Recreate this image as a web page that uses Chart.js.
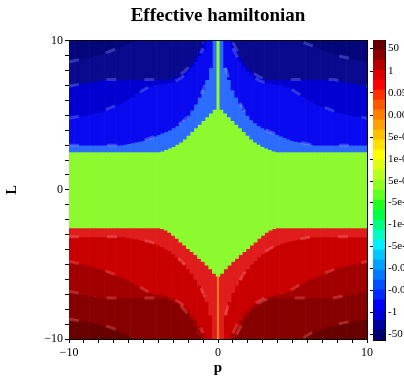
<!DOCTYPE html>
<html>
<head>
<meta charset="utf-8">
<script src="https://cdn.jsdelivr.net/npm/chart.js@4.4.1/dist/chart.umd.min.js"></script>
<style>
  html, body { margin: 0; padding: 0; background: #fff; }
  #wrap { position: relative; width: 404px; height: 377px; overflow: hidden; }
  #mainChart { position: absolute; left: 0; top: 0; }
  #barChart { position: absolute; left: 362px; top: 30px; }
</style>
</head>
<body>
<div id="wrap">
  <canvas id="mainChart" width="404" height="377"></canvas>
  <canvas id="barChart" width="42" height="320"></canvas>
</div>
<script>
// |p| of each column (the plot is mirrored in p)
const pAbs = [0,0.25,0.5,0.75,1,1.25,1.5,1.75,2,2.25,2.5,2.75,3,3.25,3.5,3.75,4,4.25,4.5,4.75,5,5.25,5.5,5.75,6,6.25,6.5,6.75,7,7.25,7.5,7.75,8,8.25,8.5,8.75,9,9.25,9.5,9.75,10];
const lRange = [-10, 10];

// level boundaries in L, read per column (upper half)
const c1Top = [10,10,10,10,10,10,10,10,10,10,10,10,10,10,10,10,10,10,10,10,10,10,10,9.9,9.8,9.7,9.6,9.5,9.4,9.3,9.2,9.1,9.05,8.95,8.9,8.85,8.8,8.75,8.7,8.65,8.6];
const c2Top = [10,10,10,10,9.9,9.4,8.9,8.5,8.2,7.95,7.75,7.6,7.5,7.45,7.4,7.4,7.4,7.4,7.4,7.4,7.4,7.4,7.4,7.4,7.4,7.4,7.4,7.4,7.4,7.4,7.4,7.4,7.35,7.3,7.25,7.2,7.15,7.1,7.05,7.0,6.95];
const c3Top = [10,10,10,10,9.5,9.0,8.6,8.25,7.95,7.7,7.5,7.35,7.25,7.2,7.15,7.1,7.05,7.0,6.95,6.85,6.7,6.55,6.4,6.25,6.1,5.95,5.8,5.7,5.6,5.5,5.4,5.3,5.2,5.15,5.1,5.05,5.0,4.95,4.9,4.85,4.8];
const c4Top = [10,10,8.2,7.4,6.7,6.2,5.75,5.35,5.0,4.7,4.5,4.3,4.15,4.0,3.9,3.8,3.7,3.6,3.5,3.4,3.3,3.25,3.2,3.15,3.1,3.05,3.0,3.0,3.0,3.0,3.0,3.0,3.0,3.0,3.0,3.0,3.0,3.0,3.0,3.0,3.0];
const greenTop = [10,5.4,5.15,4.9,4.65,4.4,4.15,3.9,3.65,3.4,3.2,3.05,2.9,2.8,2.7,2.6,2.55,2.55,2.55,2.55,2.55,2.55,2.55,2.55,2.55,2.55,2.55,2.55,2.55,2.55,2.55,2.55,2.55,2.55,2.55,2.55,2.55,2.55,2.55,2.55,2.55];

// lower half
const greenBot = [-5.8,-5.6,-5.3,-5.05,-4.8,-4.6,-4.35,-4.15,-3.95,-3.7,-3.5,-3.25,-3.05,-2.85,-2.7,-2.6,-2.55,-2.55,-2.55,-2.55,-2.55,-2.55,-2.55,-2.55,-2.55,-2.55,-2.55,-2.55,-2.55,-2.55,-2.55,-2.55,-2.55,-2.55,-2.55,-2.55,-2.55,-2.55,-2.55,-2.55,-2.55];
const dBot = [-10,-10,-8.4,-7.5,-6.9,-6.4,-6.0,-5.6,-5.3,-5.0,-4.75,-4.5,-4.3,-4.1,-3.95,-3.8,-3.7,-3.6,-3.5,-3.45,-3.4,-3.35,-3.3,-3.25,-3.2,-3.15,-3.15,-3.15,-3.15,-3.15,-3.15,-3.15,-3.15,-3.15,-3.15,-3.15,-3.15,-3.15,-3.15,-3.15,-3.15];
const aBot = [-10,-10,-10,-10,-9.6,-9.1,-8.7,-8.35,-8.05,-7.8,-7.6,-7.45,-7.3,-7.2,-7.1,-7.05,-7.0,-6.95,-6.9,-6.8,-6.65,-6.5,-6.35,-6.2,-6.05,-5.95,-5.85,-5.75,-5.65,-5.55,-5.45,-5.35,-5.25,-5.2,-5.1,-5.05,-5.0,-4.95,-4.9,-4.85,-4.8];
const bBot = [-10,-10,-10,-10,-10,-9.7,-9.2,-8.7,-8.35,-8.05,-7.8,-7.6,-7.45,-7.35,-7.25,-7.25,-7.25,-7.25,-7.25,-7.25,-7.25,-7.25,-7.25,-7.25,-7.25,-7.25,-7.25,-7.25,-7.25,-7.25,-7.25,-7.25,-7.2,-7.15,-7.1,-7.05,-7.0,-6.95,-6.9,-6.85,-6.8];
const cBot = [-10,-10,-10,-10,-10,-10,-10,-10,-10,-10,-10,-10,-10,-10,-10,-10,-10,-10,-10,-10,-10,-10,-10,-9.9,-9.75,-9.6,-9.5,-9.4,-9.3,-9.2,-9.15,-9.1,-9.0,-8.95,-8.9,-8.85,-8.8,-8.8,-8.75,-8.7,-8.7];
// thin line at p = 0 below the green cusp
const spikeRange = [-10, -5.8];

const xTickValues = [-10, 0, 10];
const xTickLabels = ['\u221210', '0', '10'];
const yTickValues = [-10, 0, 10];
const yTickLabels = ['\u221210', '0', '10'];

// colour bar
const cbColors = ['#00006e','#0000a0','#0000d8','#0000ff','#0028ff','#0050ff','#0078ff','#00a0ff','#00c8ff','#00f0ff',
  '#00ffc0','#00ff80','#00ff40','#20ff20','#60ff20','#90ff20','#b8ff20','#dcff10','#ffff00','#ffe000',
  '#ffc000','#ffa000','#ff8000','#ff5800','#ff3000','#ff0000','#dc0000','#b40000','#8c0000','#640000'];
const cbTickPos = [29.2, 26.9, 24.7, 22.5, 20.3, 18.1, 15.9, 13.8, 11.6, 9.4, 7.2, 5.0, 2.8, 0.6];
const cbTickLabels = ['50','1','0.05','0.005','5e-04','1e-04','5e-05','-5e-05','-1e-04','-5e-04','-0.005','-0.05','-1','-50'];

const serif = 'Liberation Serif';

// signed p for every column, -10 ... 10
const columns = [...pAbs.slice(1).reverse().map(v => -v), ...pAbs];
const val = (b, i) => Array.isArray(b) ? b[i] : b;

const bands = [
    { lo: c1Top, hi: lRange[1], color: '#06067c' },
    { lo: c2Top, hi: c1Top, color: '#0a0a8e' },
    { lo: c3Top, hi: c2Top, color: '#0000d0' },
    { lo: c4Top, hi: c3Top, color: '#0a0af0' },
    { lo: greenTop, hi: c4Top, color: '#2c6cff' },
    { lo: greenBot, hi: greenTop, color: '#8cfa2e' },
    { lo: dBot, hi: greenBot, color: '#e01c1c' },
    { lo: aBot, hi: dBot, color: '#c80000' },
    { lo: bBot, hi: aBot, color: '#a20000' },
    { lo: cBot, hi: bBot, color: '#860000' },
    { lo: lRange[0], hi: cBot, color: '#680000' }
];

const datasets = [];

// label-like marks along the contour lines
const contours = [
    { arr: c1Top, color: 'rgba(130,140,255,0.35)' },
    { arr: c2Top, color: 'rgba(130,140,255,0.35)' },
    { arr: c3Top, color: 'rgba(130,150,255,0.35)' },
    { arr: c4Top, color: 'rgba(150,180,255,0.35)' },
    { arr: dBot, color: 'rgba(255,130,130,0.35)' },
    { arr: aBot, color: 'rgba(255,120,120,0.32)' },
    { arr: bBot, color: 'rgba(255,120,120,0.32)' },
    { arr: cBot, color: 'rgba(255,120,120,0.32)' }
];
contours.forEach(c => {
    datasets.push({
        type: 'line',
        order: -2,
        data: columns.map(p => {
            const v = c.arr[pAbs.indexOf(Math.abs(p))];
            return { x: p, y: Math.abs(v) >= 10 ? null : v };
        }),
        borderColor: c.color,
        borderWidth: 3,
        borderDash: [10, 28],
        pointRadius: 0,
        spanGaps: false
    });
});

datasets.push({
    type: 'bar',
    order: -1,
    data: [{ x: 0, y: spikeRange }],
    backgroundColor: '#ff7a1a',
    borderWidth: 0,
    grouped: false,
    barPercentage: 0.6,
    categoryPercentage: 1
});

bands.forEach(b => {
    datasets.push({
        type: 'bar',
        data: columns.map(p => {
            const i = pAbs.indexOf(Math.abs(p));
            return { x: p, y: [val(b.lo, i), val(b.hi, i)] };
        }).filter(d => d.y[1] > d.y[0]),
        backgroundColor: b.color,
        borderWidth: 0,
        grouped: false,
        barPercentage: 1,
        categoryPercentage: 1
    });
});

new Chart(document.getElementById('mainChart'), {
    type: 'bar',
    data: { datasets },
    options: {
        responsive: false,
        animation: false,
        layout: { padding: { left: 0, right: 37, top: 0, bottom: 0 } },
        plugins: {
            legend: { display: false },
            tooltip: { enabled: false },
            title: {
                display: true,
                fullSize: false,
                text: 'Effective hamiltonian',
                color: '#000',
                font: { family: serif, size: 19, weight: 'bold' },
                padding: { top: 5, bottom: 13 }
            }
        },
        scales: {
            x: {
                type: 'linear', min: -10, max: 10, offset: false,
                ticks: {
                    stepSize: 1, autoSkip: false, maxRotation: 0, color: '#000', padding: 3,
                    font: { family: serif, size: 12 },
                    callback: v => { const k = xTickValues.indexOf(v); return k >= 0 ? xTickLabels[k] : ''; }
                },
                grid: { offset: false, drawOnChartArea: false, drawTicks: true, tickLength: 4, color: '#000' },
                border: { display: true, color: '#000' },
                title: { display: true, text: 'p', color: '#000', font: { family: serif, size: 15, weight: 'bold' }, padding: 0 },
                afterFit: s => { s.height = 38; }
            },
            y: {
                type: 'linear', min: -10, max: 10,
                ticks: {
                    stepSize: 1, autoSkip: false, color: '#000', padding: 2,
                    font: { family: serif, size: 12 },
                    callback: v => { const k = yTickValues.indexOf(v); return k >= 0 ? yTickLabels[k] : ''; }
                },
                grid: { drawOnChartArea: false, drawTicks: true, tickLength: 4, color: '#000' },
                border: { display: true, color: '#000' },
                title: { display: true, text: 'L', color: '#000', font: { family: serif, size: 14, weight: 'bold' }, padding: { top: 4, bottom: 0 } },
                afterFit: s => { s.width = 69; }
            },
            x2: {
                type: 'linear', position: 'top', min: -10, max: 10,
                ticks: { display: false }, grid: { display: false, drawTicks: false },
                border: { display: true, color: '#000' },
                afterFit: s => { s.height = 0; }
            },
            y2: {
                type: 'linear', position: 'right', min: -10, max: 10,
                ticks: { display: false }, grid: { display: false, drawTicks: false },
                border: { display: true, color: '#000' },
                afterFit: s => { s.width = 0; }
            }
        }
    }
});

// colour bar on the right
new Chart(document.getElementById('barChart'), {
    type: 'bar',
    data: {
        labels: [''],
        datasets: cbColors.map(c => ({ data: [1], backgroundColor: c, borderWidth: 0, barPercentage: 1, categoryPercentage: 1 }))
    },
    options: {
        responsive: false,
        animation: false,
        layout: { padding: { top: 10, bottom: 0, left: 0, right: 0 } },
        plugins: { legend: { display: false }, tooltip: { enabled: false } },
        scales: {
            x: {
                stacked: true,
                ticks: { display: false },
                grid: { display: false, drawTicks: false },
                border: { display: true, color: '#000' },
                afterFit: s => { s.height = 10; }
            },
            x2: {
                type: 'linear', position: 'top', min: 0, max: 1,
                ticks: { display: false }, grid: { display: false, drawTicks: false },
                border: { display: true, color: '#000' },
                afterFit: s => { s.height = 0; }
            },
            y: {
                stacked: true, min: 0, max: 30,
                ticks: { display: false },
                grid: { drawOnChartArea: false, drawTicks: true, tickLength: 3, color: '#000' },
                border: { display: true, color: '#000' },
                afterBuildTicks: s => { s.ticks = cbTickPos.map(v => ({ value: v })); },
                afterFit: s => { s.width = 11; }
            },
            y2: {
                position: 'right', min: 0, max: 30,
                ticks: {
                    autoSkip: false, padding: 3, color: '#000',
                    font: { family: serif, size: 11 },
                    callback: (v, i) => cbTickLabels[i]
                },
                grid: { display: false, drawTicks: false },
                border: { display: true, color: '#000' },
                afterBuildTicks: s => { s.ticks = cbTickPos.map(v => ({ value: v })); },
                afterFit: s => { s.width = 19; }
            }
        }
    }
});
</script>
</body>
</html>
